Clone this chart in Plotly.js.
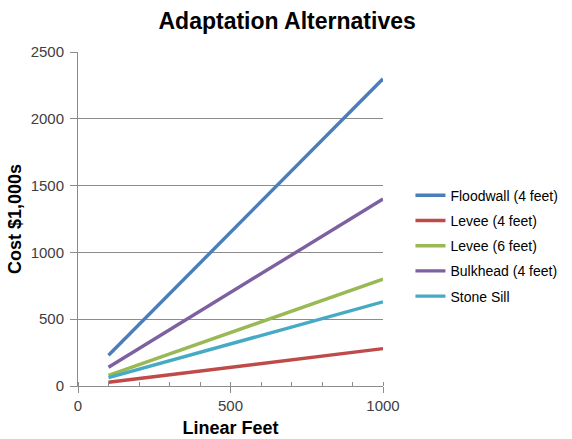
<!DOCTYPE html>
<html>
<head>
<meta charset="utf-8">
<script src="https://cdn.plot.ly/plotly-3.0.1.min.js"></script>
<style>html,body{margin:0;padding:0;background:#fff;}#chart{width:572px;height:439px;}</style>
</head>
<body>
<div id="chart"></div>
<script>
const linearFeet = [100, 1000];
const floodwall = [230, 2300];
const levee4 = [28, 280];
const levee6 = [80, 800];
const bulkhead = [140, 1400];
const stoneSill = [63, 630];
const seriesNames = ['Floodwall (4 feet)', 'Levee (4 feet)', 'Levee (6 feet)', 'Bulkhead (4 feet)', 'Stone Sill'];
const seriesValues = [floodwall, levee4, levee6, bulkhead, stoneSill];
const colors = ['#4a7ebb', '#be4b48', '#98b954', '#7d60a0', '#46aac5'];

const traces = seriesNames.map((n, i) => ({
  x: linearFeet, y: seriesValues[i], name: n, type: 'scatter', mode: 'lines',
  legendgroup: 'g' + i,
  line: {color: colors[i], width: 3.4}
}));

const layout = {
  width: 572, height: 439,
  margin: {l: 78, r: 189, t: 52, b: 53, autoexpand: false},
  paper_bgcolor: '#fff', plot_bgcolor: '#fff',
  font: {family: 'Liberation Sans, Arial, sans-serif', size: 15, color: '#404040'},
  title: {text: '<b>Adaptation Alternatives</b>', x: 0.502, xanchor: 'center', y: 0.953, yanchor: 'middle',
          xref: 'container', font: {size: 23, color: '#000'}},
  xaxis: {
    range: [0, 1000], tickvals: [0, 500, 1000], showgrid: false, zeroline: false,
    showline: true, linecolor: '#8c8c8c', linewidth: 1,
    ticks: 'outside', ticklen: 6, tickcolor: '#8c8c8c',
    minor: {dtick: 100, ticks: 'inside', ticklen: 4, tickcolor: '#8c8c8c', showgrid: false},
    title: {text: '<b>Linear Feet</b>', font: {size: 18, color: '#000'}, standoff: 8},
    tickfont: {size: 15, color: '#404040'}
  },
  yaxis: {
    range: [0, 2500], dtick: 500, showgrid: true, gridcolor: '#8c8c8c', gridwidth: 1,
    zeroline: false, showline: true, linecolor: '#8c8c8c', linewidth: 1,
    ticks: 'outside', ticklen: 7, tickcolor: '#8c8c8c', ticklabelstandoff: 3,
    title: {text: '<b>Cost $1,000s</b>', font: {size: 18, color: '#000'}, standoff: 4},
    tickfont: {size: 15, color: '#404040'}
  },
  legend: {x: 1.09, y: 0.42, xanchor: 'left', yanchor: 'middle',
           font: {size: 14, color: '#000'}, traceorder: 'grouped', tracegroupgap: 4, itemwidth: 30,
           bgcolor: 'rgba(0,0,0,0)'},
  showlegend: true
};

Plotly.newPlot('chart', traces, layout, {displayModeBar: false, staticPlot: true});
</script>
</body>
</html>
